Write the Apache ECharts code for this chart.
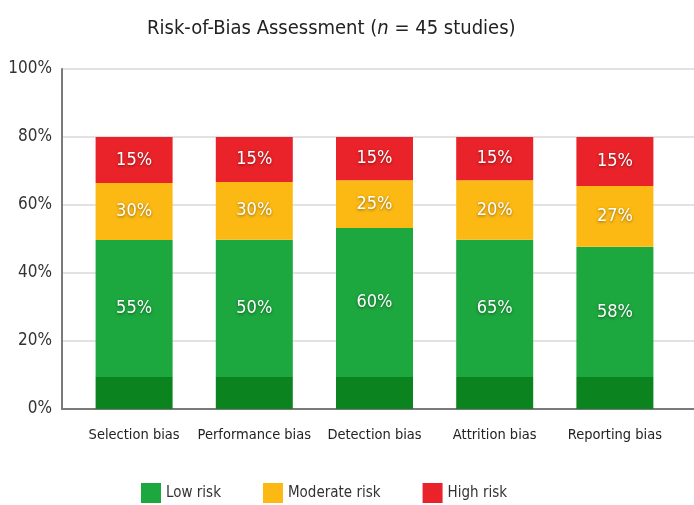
<!DOCTYPE html>
<html>
<head>
<meta charset="utf-8">
<script src="https://cdn.jsdelivr.net/npm/echarts@6/dist/echarts.min.js"></script>
<style>
  html, body { margin: 0; padding: 0; background: #fff; }
  #chart { width: 694px; height: 505px; }
</style>
</head>
<body>
<div id="chart"></div>
<script>
var categories = ['Selection bias', 'Performance bias', 'Detection bias', 'Attrition bias', 'Reporting bias']
// bar segment heights as drawn (percent of axis)
var baseValues = [9.4, 9.4, 9.4, 9.4, 9.4]
var lowValues = [40.3, 40.4, 43.8, 40.4, 38.3]
var moderateValues = [16.8, 17.0, 14.1, 17.5, 17.9]
var highValues = [13.5, 13.2, 12.7, 12.7, 14.4]
// label texts printed on the segments
var lowLabels = [55, 50, 60, 65, 58]
var moderateLabels = [30, 30, 25, 20, 27]
var highLabels = [15, 15, 15, 15, 15]
var yTicks = [0, 20, 40, 60, 80, 100]

var FONT = '"DejaVu Sans Condensed", "Liberation Sans Narrow", Lato, sans-serif'
var C = { base: '#0b8420', low: '#1ca73f', moderate: '#fcb914', high: '#ea2229' }

var mychart = echarts.init(document.getElementById('chart'))

var segLabel = (texts) => ({
    show: true,
    position: 'inside',
    color: '#fff',
    fontFamily: FONT,
    fontSize: 18,
    textShadowColor: 'rgba(0,0,0,0.45)',
    textShadowBlur: 3,
    textShadowOffsetY: 1,
    formatter: (p) => texts[p.dataIndex] + '%'
})

var option = {
    animation: false,
    backgroundColor: '#fff',
    title: {
        text: 'Risk-of-Bias Assessment ({i|n} = 45 studies)',
        left: 142,
        top: 14,
        textStyle: {
            fontFamily: FONT,
            fontSize: 20,
            fontWeight: 'normal',
            color: '#222',
            rich: { i: { fontFamily: FONT, fontSize: 20, fontStyle: 'italic', color: '#222' } }
        }
    },
    legend: {
        left: 136,
        top: 478,
        itemWidth: 20,
        itemHeight: 20,
        itemGap: 42,
        icon: 'rect',
        textStyle: { fontFamily: FONT, fontSize: 15, color: '#333' },
        data: ['Low risk', 'Moderate risk', 'High risk']
    },
    grid: [
        { left: 62, right: 0, top: 69, bottom: 96 },
        { left: 74, right: 19, top: 69, bottom: 96 }
    ],
    xAxis: [
        {
            gridIndex: 0, type: 'category', data: categories,
            axisLine: { lineStyle: { color: '#7a7a7a', width: 2 } },
            axisTick: { show: false }, axisLabel: { show: false }
        },
        {
            gridIndex: 1, type: 'category', data: categories,
            axisLine: { show: false }, axisTick: { show: false },
            axisLabel: { interval: 0, margin: 19, fontFamily: FONT, fontSize: 14.5, color: '#222' }
        }
    ],
    yAxis: [
        {
            gridIndex: 0, type: 'value', min: yTicks[0], max: yTicks[yTicks.length - 1], interval: 20,
            axisLine: { show: true, lineStyle: { color: '#7a7a7a', width: 2 } },
            axisTick: { show: false },
            axisLabel: { formatter: '{value}%', margin: 10, fontFamily: FONT, fontSize: 17, color: '#333' },
            splitLine: { lineStyle: { color: '#d8d8d8', width: 1.5 } }
        },
        {
            gridIndex: 1, type: 'value', min: 0, max: 100, show: false
        }
    ],
    series: [
        {
            name: 'Low risk base', type: 'bar', stack: 'rob', xAxisIndex: 1, yAxisIndex: 1,
            barWidth: 77, data: baseValues, itemStyle: { color: C.base }
        },
        {
            name: 'Low risk', type: 'bar', stack: 'rob', xAxisIndex: 1, yAxisIndex: 1,
            barWidth: 77, data: lowValues, itemStyle: { color: C.low }, label: segLabel(lowLabels)
        },
        {
            name: 'Moderate risk', type: 'bar', stack: 'rob', xAxisIndex: 1, yAxisIndex: 1,
            barWidth: 77, data: moderateValues, itemStyle: { color: C.moderate }, label: segLabel(moderateLabels)
        },
        {
            name: 'High risk', type: 'bar', stack: 'rob', xAxisIndex: 1, yAxisIndex: 1,
            barWidth: 77, data: highValues, itemStyle: { color: C.high }, label: segLabel(highLabels)
        }
    ]
}
mychart.setOption(option)
</script>
</body>
</html>
